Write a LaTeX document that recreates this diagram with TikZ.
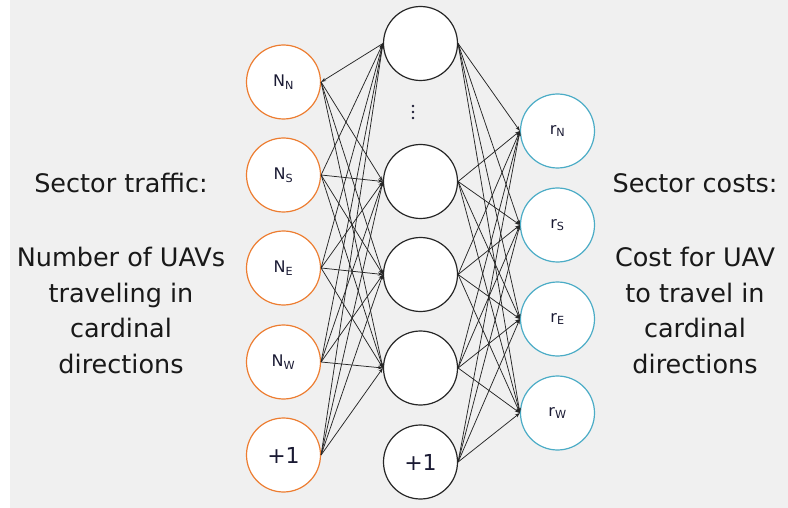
\documentclass[tikz,border=0pt]{standalone}
\usepackage{fontspec}
\setmainfont{DejaVu Sans}
\usetikzlibrary{arrows.meta}
\definecolor{paper}{HTML}{F0F0F0}
\definecolor{inring}{HTML}{ED7D31}
\definecolor{outring}{HTML}{4BACC6}
\definecolor{hidring}{HTML}{262626}
\definecolor{labelink}{HTML}{1A1A33}
\begin{document}
\begin{tikzpicture}[x=1pt,y=-1pt,
  neuron/.style={circle,fill=white,line width=1.2pt,minimum size=74pt,inner sep=0pt,
    text=labelink,font=\fontsize{16}{19}\selectfont},
  inneuron/.style={neuron,draw=inring},
  hidneuron/.style={neuron,draw=hidring},
  outneuron/.style={neuron,draw=outring},
  bias/.style={font=\fontsize{22}{25}\selectfont},
  link/.style={line width=0.75pt,draw=black!85,-{Stealth[length=5pt,width=3.5pt]}},
  caption/.style={align=center,text=black!90,font=\fontsize{25.5}{35.5}\selectfont}]
\useasboundingbox (0,0) rectangle (788,508);
\fill[white] (0,0) rectangle (788,508);
\fill[paper] (10,0) rectangle (788,508);

% input layer
\node[inneuron] (inN) at (283.5,82)  {N\textsubscript{N}};
\node[inneuron] (inS) at (283.5,175) {N\textsubscript{S}};
\node[inneuron] (inE) at (283.5,268) {N\textsubscript{E}};
\node[inneuron] (inW) at (283.5,362) {N\textsubscript{W}};
\node[inneuron,bias] (inB) at (283.5,455) {+1};

% hidden layer
\node[hidneuron] (h1) at (420.5,43.5) {};
\node[hidneuron] (h2) at (420.5,181.5) {};
\node[hidneuron] (h3) at (420.5,274.5) {};
\node[hidneuron] (h4) at (420.5,368) {};
\node[hidneuron,bias] (hB) at (420.5,462) {+1};
\node[inner sep=0pt] (vdots) at (413,112) {};
\foreach \dy in {-6,0,6}
  \fill[labelink] ([yshift=-\dy pt]vdots) circle (1.4pt);

% output layer
\node[outneuron] (oN) at (557.5,131) {r\textsubscript{N}};
\node[outneuron] (oS) at (557.5,225) {r\textsubscript{S}};
\node[outneuron] (oE) at (557.5,319) {r\textsubscript{E}};
\node[outneuron] (oW) at (557.5,413) {r\textsubscript{W}};

% input -> hidden
\draw[link] (h1.west) -- (inN.east);
\foreach \b in {h2,h3,h4}
  \draw[link] (inN.east) -- (\b.west);
\foreach \a in {inS,inE,inW,inB}
  \foreach \b in {h1,h2,h3,h4}
    \draw[link] (\a.east) -- (\b.west);

% hidden -> output
\foreach \a in {h1,h2,h3,h4,hB}
  \foreach \b in {oN,oS,oE,oW}
    \draw[link] (\a.east) -- (\b.west);

% side captions
\node[caption] (ltitle) at (121,183) {Sector traffic:};
\node[caption,anchor=north] (ltext) at (121,244) {Number of UAVs\\traveling in\\cardinal\\directions};
\node[caption] (rtitle) at (695,183) {Sector costs:};
\node[caption,anchor=north] (rtext) at (695,244) {Cost for UAV\\to travel in\\cardinal\\directions};
\end{tikzpicture}
\end{document}
